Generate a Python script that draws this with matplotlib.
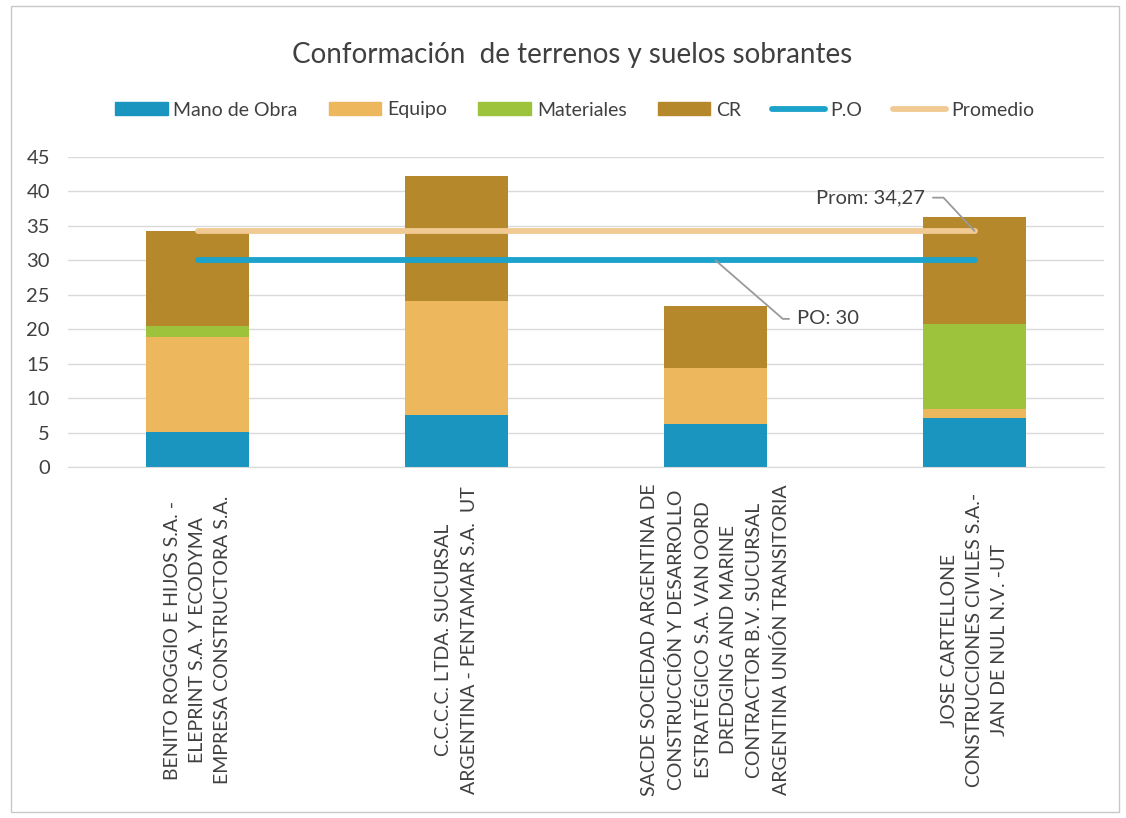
import matplotlib
matplotlib.use("Agg")
import matplotlib.pyplot as plt
import matplotlib.transforms as mtransforms
from matplotlib.patches import Patch, Rectangle
from matplotlib.lines import Line2D
import numpy as np

plt.rcParams['font.family'] = ['Lato', 'DejaVu Sans']

# ---------------- data ----------------
categories = [
    "BENITO ROGGIO E HIJOS S.A. -\nELEPRINT S.A. Y ECODYMA\nEMPRESA CONSTRUCTORA S.A.",
    "C.C.C.C. LTDA. SUCURSAL\nARGENTINA - PENTAMAR S.A.  UT",
    "SACDE SOCIEDAD ARGENTINA DE\nCONSTRUCCIÓN Y DESARROLLO\nESTRATÉGICO S.A. VAN OORD\nDREDGING AND MARINE\nCONTRACTOR B.V. SUCURSAL\nARGENTINA UNIÓN TRANSITORIA",
    "JOSE CARTELLONE\nCONSTRUCCIONES CIVILES S.A.-\nJAN DE NUL N.V. -UT",
]
mano_de_obra = [5.1, 7.6, 6.3, 7.1]
equipo = [13.8, 16.5, 8.0, 1.3]
materiales = [1.6, 0.0, 0.0, 12.3]
cr = [13.8, 18.2, 9.0, 15.6]
po_value = 30
prom_value = 34.27
series_names = ["Mano de Obra", "Equipo", "Materiales", "CR", "P.O", "Promedio"]
title = "Conformación  de terrenos y suelos sobrantes"
y_ticks = list(range(0, 46, 5))

# ---------------- style ----------------
c_mo = "#1A95BF"
c_eq = "#EDB75E"
c_mat = "#9DC23B"
c_cr = "#B4882B"
c_po = "#1CA3CB"
c_prom = "#F0CA92"
txt = "#404040"

W, H = 1126, 818
fig = plt.figure(figsize=(W / 100, H / 100), dpi=100)
fig.patch.set_facecolor("white")
fig.add_artist(Rectangle((11 / W, 1 - 812 / H), (1119 - 11) / W, (812 - 6) / H,
                         transform=fig.transFigure, fill=False,
                         edgecolor="#C8C8C8", lw=1.0))

ax = fig.add_axes([68 / W, (H - 467) / H, (1104 - 68) / W, (467 - 157) / H])
x = np.arange(len(categories))
bw = 0.4
bottom = np.zeros(len(categories))
for vals, col in [(mano_de_obra, c_mo), (equipo, c_eq), (materiales, c_mat), (cr, c_cr)]:
    ax.bar(x, vals, bw, bottom=bottom, color=col, zorder=2, linewidth=0)
    bottom += np.array(vals)

ax.plot([x[0], x[-1]], [po_value, po_value], color=c_po, lw=4.2,
        solid_capstyle="round", zorder=4)
ax.plot([x[0], x[-1]], [prom_value, prom_value], color=c_prom, lw=4.2,
        solid_capstyle="round", zorder=3)

ax.set_xlim(-0.5, len(categories) - 0.5)
ax.set_ylim(0, 45)
ax.set_yticks(y_ticks)
ax.set_yticklabels([str(t) for t in y_ticks], fontsize=14.5, color=txt)
ax.tick_params(axis="y", length=0, pad=13)
ax.tick_params(axis="x", length=0)
ax.set_xticks([])
ax.grid(axis="y", color="#DADADA", lw=1.0, zorder=0)
for s in ["top", "right", "left"]:
    ax.spines[s].set_visible(False)
ax.spines["bottom"].set_color("#DADADA")
ax.set_axisbelow(True)

# category labels (rotated, multi-line, centered)
trans = mtransforms.blended_transform_factory(ax.transData, fig.transFigure)
for xi, lab in zip(x, categories):
    ax.text(xi, (H - 640) / H, lab, rotation=90, ha="center", va="center",
            multialignment="center", fontsize=14, color=txt, transform=trans,
            linespacing=1.6)

# annotations
ax.annotate(f"Prom: {prom_value:.2f}".replace(".", ","), xy=(x[-1], prom_value),
            xytext=(2.597, 39.1), ha="center", va="center", fontsize=14.5, color=txt,
            arrowprops=dict(arrowstyle="-", color="#9A9A9A", lw=1.3,
                            connectionstyle="angle,angleA=0,angleB=133,rad=0",
                            shrinkA=4, shrinkB=0), zorder=5)
ax.annotate(f"PO: {po_value}", xy=(x[2], po_value),
            xytext=(2.436, 21.5), ha="center", va="center", fontsize=14.5, color=txt,
            arrowprops=dict(arrowstyle="-", color="#9A9A9A", lw=1.3,
                            connectionstyle="angle,angleA=0,angleB=-41,rad=0",
                            shrinkA=4, shrinkB=0), zorder=5)

# legend
handles = [Patch(color=c_mo), Patch(color=c_eq), Patch(color=c_mat), Patch(color=c_cr),
           Line2D([], [], color=c_po, lw=4.2, solid_capstyle="round"),
           Line2D([], [], color=c_prom, lw=4.2, solid_capstyle="round")]
fig.legend(handles, series_names, loc="center", bbox_to_anchor=(575 / W, (H - 110) / H),
           ncol=6, frameon=False, fontsize=14, handlelength=2.7, handleheight=0.65,
           handletextpad=0.3, columnspacing=1.6, labelcolor=txt)

fig.text(572 / W, (H - 55) / H, title, ha="center", va="center", fontsize=20, color=txt)

fig.savefig("out.png", dpi=100)
